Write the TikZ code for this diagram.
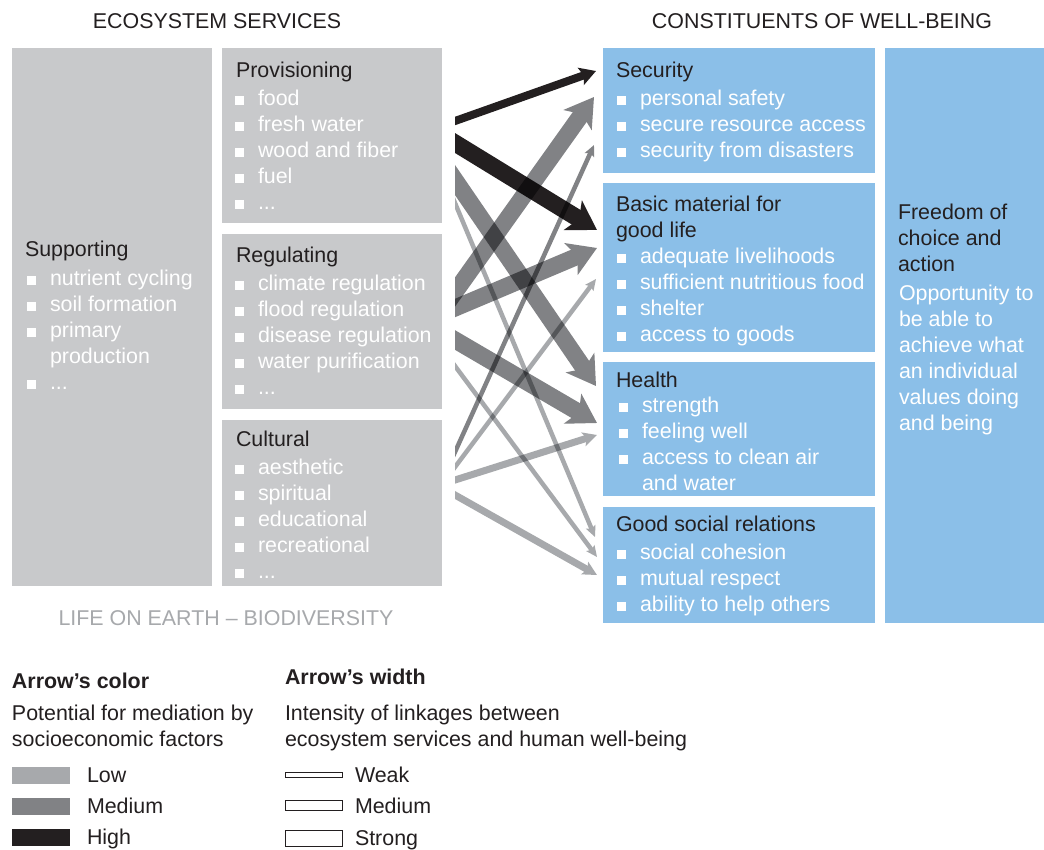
\documentclass[tikz,border=0pt]{standalone}
\usepackage{fontspec}
\setmainfont{Liberation Sans}
\usetikzlibrary{arrows.meta,calc}
\definecolor{boxgray}{HTML}{C8C9CB}
\definecolor{boxblue}{HTML}{8BBFE8}
\definecolor{dk}{HTML}{231F20}
\definecolor{md}{HTML}{818285}
\definecolor{lt}{HTML}{A7A9AC}
\newcommand\bitem[4]{% name, x, y(baseline), text
  \fill[white] (#2-23,#3-9.5) rectangle ++(8.5,8.5);
  \node[it] (#1) at (#2,#3) {#4};}
\newcommand\myarrow[3]{%
  \begin{scope}\clip (455,0) rectangle (1044,849);
  \begin{scope}[blend mode=multiply]\begin{scope}[transparency group]
  \draw[#3] ($(#1)!-25pt!(#2)$) -- (#2);
  \end{scope}\end{scope}\end{scope}}
\begin{document}
\begin{tikzpicture}[x=1pt,y=-1pt,
  every node/.style={inner sep=0pt, outer sep=0pt, font=\fontsize{21.4}{26}\selectfont},
  gbox/.style={fill=boxgray, draw=none, anchor=north west},
  bbox/.style={fill=boxblue, draw=none, anchor=north west},
  hd/.style={anchor=base west, text=dk},
  it/.style={anchor=base west, text=white},
  ttl/.style={anchor=base, text=dk},
  strongA/.style={line width=17pt, -{Stealth[length=28pt,width=34pt,inset=7pt]}},
  medA/.style={line width=8pt, -{Stealth[length=16pt,width=18pt,inset=3pt]}},
  weakA/.style={line width=4.5pt, -{Stealth[length=11pt,width=10pt,inset=2pt]}},
  lowmedA/.style={line width=7pt, -{Stealth[length=14pt,width=14pt,inset=3pt]}},
  lgd/.style={draw=dk, line width=0.9pt, fill=white}
]
\useasboundingbox (0,0) rectangle (1044,849);
\fill[white] (0,0) rectangle (1044,849);

% titles
\node[ttl] (t1) at (217,28) {ECOSYSTEM SERVICES};
\node[ttl] (t2) at (822,28) {CONSTITUENTS OF WELL-BEING};

% grey boxes
\node[gbox, minimum width=200pt, minimum height=538pt] (sup) at (12,48) {};
\node[gbox, minimum width=220pt, minimum height=175pt] (prov) at (222,48) {};
\node[gbox, minimum width=220pt, minimum height=175pt] (reg) at (222,234) {};
\node[gbox, minimum width=220pt, minimum height=166pt] (cult) at (222,420) {};

% blue boxes
\node[bbox, minimum width=272pt, minimum height=125pt] (sec) at (603,48) {};
\node[bbox, minimum width=272pt, minimum height=169pt] (bas) at (603,183) {};
\node[bbox, minimum width=272pt, minimum height=134pt] (hea) at (603,362) {};
\node[bbox, minimum width=272pt, minimum height=116pt] (soc) at (603,507) {};
\node[bbox, minimum width=159pt, minimum height=575pt] (free) at (885,48) {};

% Supporting
\node[hd] (suph) at (25,256.5) {Supporting};
\bitem{sup1}{50}{285.5}{nutrient cycling}
\bitem{sup2}{50}{311.5}{soil formation}
\bitem{sup3}{50}{337.5}{primary}
\node[it] (sup4) at (50,363.5) {production};
\bitem{sup5}{50}{389.5}{...}

% Provisioning
\node[hd] (provh) at (236,77) {Provisioning};
\bitem{pr1}{258}{105.5}{food}
\bitem{pr2}{258}{131.5}{fresh water}
\bitem{pr3}{258}{157.5}{wood and fiber}
\bitem{pr4}{258}{183.5}{fuel}
\bitem{pr5}{258}{209.5}{...}

% Regulating
\node[hd] (regh) at (236,262.5) {Regulating};
\bitem{re1}{258}{290.5}{climate regulation}
\bitem{re2}{258}{316.5}{flood regulation}
\bitem{re3}{258}{342.5}{disease regulation}
\bitem{re4}{258}{368.5}{water purification}
\bitem{re5}{258}{394.5}{...}

% Cultural
\node[hd] (culth) at (236,446.5) {Cultural};
\bitem{cu1}{258}{474.5}{aesthetic}
\bitem{cu2}{258}{500.5}{spiritual}
\bitem{cu3}{258}{526.5}{educational}
\bitem{cu4}{258}{552.5}{recreational}
\bitem{cu5}{258}{578.5}{...}

% Security
\node[hd] (sech) at (616,77.5) {Security};
\bitem{se1}{640}{105.5}{personal safety}
\bitem{se2}{640}{131.5}{secure resource access}
\bitem{se3}{640}{157.5}{security from disasters}

% Basic material
\node[hd] (bash1) at (616,211.5) {Basic material for};
\node[hd] (bash2) at (616,237.5) {good life};
\bitem{ba1}{640}{263.5}{adequate livelihoods}
\bitem{ba2}{640}{289.5}{sufficient nutritious food}
\bitem{ba3}{640}{315.5}{shelter}
\bitem{ba4}{640}{341.5}{access to goods}

% Health
\node[hd] (heah) at (616,387.5) {Health};
\bitem{he1}{642}{412.5}{strength}
\bitem{he2}{642}{438.5}{feeling well}
\bitem{he3}{642}{464.5}{access to clean air}
\node[it] (he4) at (642,490.5) {and water};

% Social
\node[hd] (soch) at (616,531.5) {Good social relations};
\bitem{so1}{640}{559.5}{social cohesion}
\bitem{so2}{640}{585.5}{mutual respect}
\bitem{so3}{640}{611.5}{ability to help others}

% Freedom
\node[hd] (fr1) at (898,219.5) {Freedom of};
\node[hd] (fr2) at (898,245.5) {choice and};
\node[hd] (fr3) at (898,271.5) {action};
\node[it] (fr4) at (899,300.5) {Opportunity to};
\node[it] (fr5) at (899,326.5) {be able to};
\node[it] (fr6) at (899,352.5) {achieve what};
\node[it] (fr7) at (899,378.5) {an individual};
\node[it] (fr8) at (899,404.5) {values doing};
\node[it] (fr9) at (899,430.5) {and being};

% life on earth
\node[anchor=base, text=lt] (life) at (226,625) {LIFE ON EARTH -- BIODIVERSITY};

% arrows: coordinates
\coordinate (s1) at (455,121);  \coordinate (e1) at (596,71);
\coordinate (s2) at (455,143);  \coordinate (e2) at (597,230);
\coordinate (s3) at (455,180);  \coordinate (e3) at (596,386);
\coordinate (s4) at (455,203);  \coordinate (e4) at (595,537);
\coordinate (s5) at (455,292);  \coordinate (e5) at (594,97);
\coordinate (s6) at (455,308);  \coordinate (e6) at (597,248);
\coordinate (s7) at (455,340);  \coordinate (e7) at (597,423);
\coordinate (s8) at (455,366);  \coordinate (e8) at (597,557);
\coordinate (s9) at (455,452);  \coordinate (e9) at (594,145);
\coordinate (s10) at (455,467); \coordinate (e10) at (596,279);
\coordinate (s11) at (455,480); \coordinate (e11) at (597,435);
\coordinate (s12) at (455,495); \coordinate (e12) at (597,575);

\myarrow{s1}{e1}{medA, draw=dk, fill=dk}
\myarrow{s2}{e2}{strongA, draw=dk, fill=dk}
\myarrow{s3}{e3}{strongA, draw=md, fill=md}
\myarrow{s4}{e4}{weakA, draw=lt, fill=lt}
\myarrow{s5}{e5}{strongA, draw=md, fill=md}
\myarrow{s6}{e6}{strongA, draw=md, fill=md}
\myarrow{s7}{e7}{strongA, draw=md, fill=md}
\myarrow{s8}{e8}{weakA, draw=lt, fill=lt}
\myarrow{s9}{e9}{weakA, draw=md, fill=md}
\myarrow{s10}{e10}{weakA, draw=lt, fill=lt}
\myarrow{s11}{e11}{lowmedA, draw=lt, fill=lt}
\myarrow{s12}{e12}{lowmedA, draw=lt, fill=lt}

% legend: colour
\node[anchor=base west, text=dk, font=\fontsize{21.4}{26}\selectfont\bfseries] (lc) at (12,688.5) {Arrow’s color};
\node[hd] (lc1) at (12,720.5) {Potential for mediation by};
\node[hd] (lc2) at (12,746.5) {socioeconomic factors};
\fill[lt] (12,767) rectangle (70,784);
\fill[md] (12,798) rectangle (70,815);
\fill[dk] (12,829) rectangle (70,846);
\node[hd] (low) at (87,782.5) {Low};
\node[hd] (med) at (87,813.5) {Medium};
\node[hd] (high) at (87,844.5) {High};

% legend: width
\node[anchor=base west, text=dk, font=\fontsize{21.4}{26}\selectfont\bfseries] (lw) at (285,684.5) {Arrow’s width};
\node[hd] (lw1) at (285,720.5) {Intensity of linkages between};
\node[hd] (lw2) at (285,746.5) {ecosystem services and human well-being};
\draw[lgd] (285.5,772.5) rectangle (342,777.5);
\draw[lgd] (285.5,800.5) rectangle (342,810.5);
\draw[lgd] (285.5,830.5) rectangle (342,846);
\node[hd] (weak) at (355,782.5) {Weak};
\node[hd] (wmed) at (355,813.5) {Medium};
\node[hd] (strong) at (355,845.5) {Strong};
\end{tikzpicture}
\end{document}
